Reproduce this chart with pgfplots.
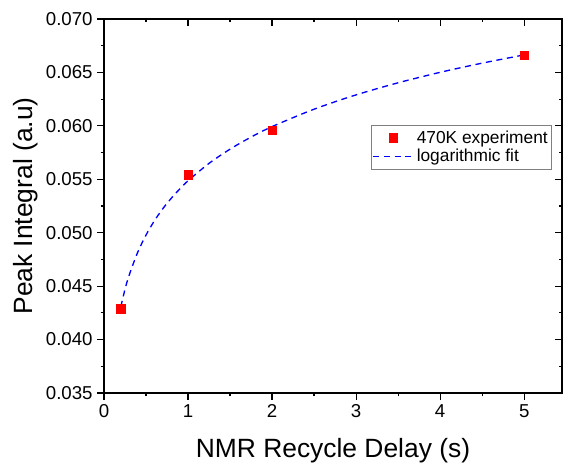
\documentclass[border=0pt]{standalone}
\usepackage{fontspec}
\setmainfont{Liberation Sans}
\usepackage{pgfplots}
\pgfplotsset{compat=1.18}

\pgfplotsset{
  frame/.style={
    at={(0pt,0pt)}, anchor=south west,
    scale only axis,
    width=343.5pt, height=280.5pt,
    xmin=0, xmax=5.45,
    ymin=0.035, ymax=0.070,
    xtick={0,1,2,3,4,5},
    ytick={0.035,0.040,0.045,0.050,0.055,0.060,0.065,0.070},
    minor x tick num=1,
    minor y tick num=1,
    major tick length=5pt,
    minor tick length=2.6pt,
    every tick/.style={black, line width=0.9pt},
    axis line style={line width=1.1pt},
    scaled y ticks=false,
  },
}

\begin{document}
\begin{tikzpicture}
% fixed page frame around the axis
\useasboundingbox (-78pt,-54.75pt) rectangle (344.25pt,294.75pt);

% mirrored ticks on the top and right edges point inward
\begin{axis}[frame, tick pos=right, tick align=inside,
  xticklabels={}, yticklabels={}]
\end{axis}

\begin{axis}[
  frame,
  tick pos=left,
  tick align=outside,
  /pgf/number format/assume math mode=true,
  yticklabel style={/pgf/number format/fixed, /pgf/number format/fixed zerofill, /pgf/number format/precision=3},
  ticklabel style={font=\fontsize{14}{16}\selectfont},
  xlabel={NMR Recycle Delay (s)},
  ylabel={Peak Integral (a.u)},
  label style={font=\fontsize{19.8}{23}\selectfont},
  xlabel style={at={(axis description cs:0.5,-0.1738)}, anchor=base},
  ylabel style={at={(axis description cs:-0.1572,0.5)}, anchor=base},
  legend style={
    at={(0.583,0.7166)}, anchor=north west,
    draw=gray, line width=0.6pt,
    font=\fontsize{13}{15}\selectfont,
    inner xsep=1pt, inner ysep=2pt,
    row sep=-1pt,
  },
  legend cell align=left,
  legend image code/.code={\draw[#1] (0pt,0pt) -- (30pt,0pt);},
]
\addplot[only marks, mark=square*, mark size=3.2pt, color=red, mark options={draw=red, fill=red},
  legend image code/.code={\draw[mark repeat=2,mark phase=2] plot coordinates {(0pt,0pt) (15pt,0pt) (30pt,0pt)};}]
  coordinates {(0.2,0.0429) (1,0.0554) (2,0.0596) (5,0.0666)};
\addlegendentry{470K experiment}

\addplot[color=blue, line width=1pt, dash pattern=on 4.5pt off 3.5pt, smooth, no marks]
  coordinates {
    (0.2,0.04307) (0.25,0.04471) (0.3,0.04604) (0.4,0.04815) (0.5,0.04978)
    (0.6,0.05112) (0.7,0.05225) (0.8,0.05322) (0.9,0.05408) (1.0,0.05486)
    (1.25,0.05649) (1.5,0.05782) (1.75,0.05895) (2.0,0.05993) (2.5,0.06156)
    (3.0,0.06290) (3.5,0.06403) (4.0,0.06501) (4.5,0.06587) (5.0,0.06664)
  };
\addlegendentry{logarithmic fit}
\end{axis}
\end{tikzpicture}
\end{document}
